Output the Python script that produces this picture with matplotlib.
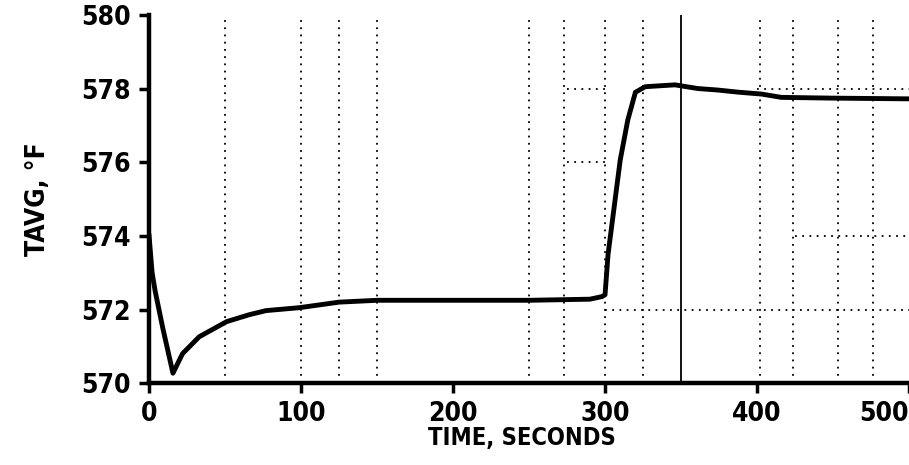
import matplotlib
matplotlib.use("Agg")
import matplotlib.pyplot as plt

# Data
time_s = [0, 2, 4, 9, 15.7, 22, 33, 51, 66, 77, 99, 125, 150, 200, 250, 290, 298,
          300, 302, 310, 315, 320, 326.5, 346, 361, 374, 388, 403, 416, 449, 500]
tavg_f = [574.0, 573.0, 572.5, 571.5, 570.27, 570.8, 571.26, 571.67, 571.86, 571.97,
          572.05, 572.2, 572.25, 572.25, 572.25, 572.28, 572.35,
          572.4, 573.5, 576.06, 577.15, 577.9, 578.05, 578.1, 578.0, 577.96, 577.9,
          577.85, 577.76, 577.74, 577.72]

x_ticks = [0, 100, 200, 300, 400, 500]
x_tick_labels = ["0", "100", "200", "300", "400", "500"]
y_ticks = [570, 572, 574, 576, 578, 580]
y_tick_labels = ["570", "572", "574", "576", "578", "580"]

# faint graph-paper lines visible in the scan
grid_x_dotted = [50, 100, 125, 150, 250, 273, 300, 325, 402, 424, 453, 476]
grid_x_solid = [350]
grid_y = [572, 574, 576, 578]

FONT = ["DejaVu Sans"]

fig = plt.figure(figsize=(9.09, 4.65), dpi=100)
ax = fig.add_axes([0.164, 0.176, 0.836, 0.792])

for gx in grid_x_dotted:
    ax.axvline(gx, color="black", lw=1.3, linestyle=(0, (1, 3)), zorder=1)
for gx in grid_x_solid:
    ax.axvline(gx, color="black", lw=1.3, zorder=1)
ax.axhline(grid_y[0], xmin=0.6, xmax=1.0, color="black", lw=1.3, linestyle=(0, (1, 3)), zorder=1)
ax.axhline(grid_y[1], xmin=0.85, xmax=1.0, color="black", lw=1.3, linestyle=(0, (1, 3)), zorder=1)
ax.axhline(grid_y[2], xmin=0.55, xmax=0.6, color="black", lw=1.3, linestyle=(0, (1, 3)), zorder=1)
ax.axhline(grid_y[3], xmin=0.55, xmax=0.6, color="black", lw=1.3, linestyle=(0, (1, 3)), zorder=1)
ax.axhline(grid_y[3], xmin=0.8, xmax=1.0, color="black", lw=1.3, linestyle=(0, (1, 3)), zorder=1)

ax.plot(time_s, tavg_f, color="black", lw=3.5, solid_joinstyle="round", zorder=3)

ax.set_xlim(0, 500)
ax.set_ylim(570, 580)
ax.set_xticks(x_ticks)
ax.set_xticklabels(x_tick_labels)
ax.set_yticks(y_ticks)
ax.set_yticklabels(y_tick_labels)

for s in ["top", "right"]:
    ax.spines[s].set_visible(False)
for s in ["left", "bottom"]:
    ax.spines[s].set_linewidth(3.2)
    ax.spines[s].set_zorder(4)

ax.tick_params(axis="both", direction="out", length=7, width=2.5, pad=6)
for lab in ax.get_xticklabels() + ax.get_yticklabels():
    lab.set_fontfamily(FONT)
    lab.set_fontweight("bold")
    lab.set_fontstretch("condensed")
    lab.set_fontsize(19)
ax.get_xticklabels()[-1].set_horizontalalignment("right")

ax.set_xlabel("TIME, SECONDS", fontfamily=FONT, fontweight="bold", fontstretch="condensed",
              fontsize=17, labelpad=0)
ax.set_ylabel("TAVG, °F", fontfamily=FONT, fontweight="bold", fontstretch="condensed",
              fontsize=19, labelpad=22)
ax.xaxis.set_label_coords(0.49, -0.115)

fig.savefig("out.png", dpi=100)
